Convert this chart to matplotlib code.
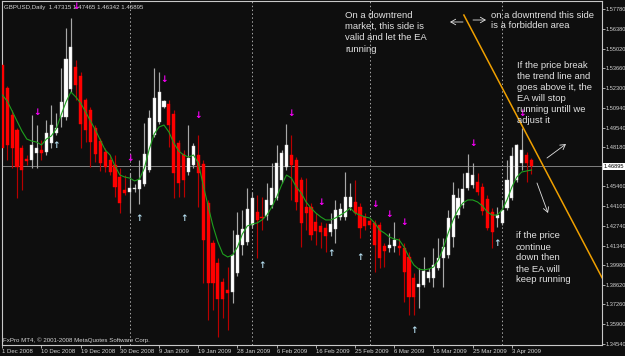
import matplotlib
matplotlib.use("Agg")
import matplotlib.pyplot as plt
import numpy as np

plt.rcParams['font.family'] = ['Liberation Sans', 'DejaVu Sans']

# ---------------- data (GBPUSD daily) ----------------
opens = [1.5389,1.5229,1.5042,1.4938,1.4813,1.4736,1.4729,1.4778,1.4799,1.4785,
         1.4847,1.4917,1.5028,1.5028,1.5222,1.5375,1.5313,1.5146,1.5077,1.4952,
         1.4861,1.4785,1.4729,1.4695,1.4611,1.4521,1.4507,1.4528,1.4528,1.4563,
         1.4660,1.4903,1.4993,1.5097,1.5118,1.5049,1.4847,1.4771,1.4646,1.4695,
         1.4764,1.4702,1.4431,1.4153,1.4014,1.3882,1.3827,1.3813,1.3945,1.4139,
         1.4160,1.4278,1.4368,1.4334,1.4341,1.4417,1.4466,1.4591,1.4681,1.4764,
         1.4729,1.4591,1.4403,1.4403,1.4299,1.4271,1.4257,1.4229,1.4250,1.4334,
         1.4334,1.4403,1.4438,1.4403,1.4334,1.4306,1.4292,1.4278,1.4132,1.4118,
         1.4132,1.4132,1.4118,1.4056,1.3910,1.3847,1.3861,1.3910,1.3910,1.3979,
         1.4049,1.4070,1.4195,1.4347,1.4417,1.4535,1.4556,1.4577,1.4542,1.4459,
         1.4368,1.4327,1.4292,1.4396,1.4466,1.4591,1.4709,1.4764,1.47315]
highs = [1.5410,1.5243,1.5077,1.4952,1.4834,1.4764,1.5042,1.4972,1.4868,1.5007,
         1.5111,1.5056,1.5368,1.5646,1.5716,1.5424,1.5341,1.5160,1.5097,1.4972,
         1.4882,1.4813,1.4764,1.4764,1.4674,1.4625,1.4639,1.4563,1.4729,1.4986,
         1.5077,1.5368,1.5341,1.5146,1.5146,1.5077,1.4868,1.4799,1.4972,1.4847,
         1.4903,1.4729,1.4452,1.4174,1.4049,1.3910,1.3986,1.4243,1.4368,1.4382,
         1.4535,1.4507,1.4486,1.4472,1.4570,1.4709,1.4834,1.4799,1.4979,1.4903,
         1.4750,1.4611,1.4604,1.4431,1.4361,1.4299,1.4292,1.4361,1.4452,1.4431,
         1.4646,1.4570,1.4591,1.4431,1.4361,1.4327,1.4313,1.4299,1.4153,1.4222,
         1.4299,1.4188,1.4153,1.4091,1.3945,1.3979,1.4056,1.3979,1.4118,1.4188,
         1.4188,1.4382,1.4577,1.4535,1.4639,1.4771,1.4709,1.4639,1.4570,1.4486,
         1.4396,1.4403,1.4452,1.4729,1.4820,1.4841,1.4952,1.4785,1.47465]
lows = [1.4729,1.4729,1.4674,1.4466,1.4521,1.4695,1.4674,1.4674,1.4729,1.4764,
        1.4813,1.4903,1.4959,1.5007,1.5202,1.5146,1.4813,1.4854,1.4681,1.4716,
        1.4653,1.4646,1.4625,1.4472,1.4361,1.4486,1.4361,1.4507,1.4424,1.4549,
        1.4646,1.4889,1.4979,1.5091,1.4820,1.4466,1.4472,1.4472,1.4625,1.4674,
        1.4403,1.3875,1.3618,1.3688,1.3500,1.3632,1.3549,1.3736,1.3924,1.4070,
        1.4139,1.4257,1.4049,1.4243,1.4313,1.4396,1.4452,1.4570,1.4660,1.4452,
        1.4382,1.4125,1.4243,1.4174,1.4139,1.4118,1.4091,1.4202,1.4153,1.4313,
        1.4313,1.4382,1.4347,1.4188,1.4243,1.4257,1.3952,1.3979,1.3986,1.4091,
        1.4091,1.4070,1.3743,1.3653,1.3653,1.3702,1.3847,1.3882,1.3847,1.3966,
        1.3847,1.4049,1.4125,1.4327,1.4396,1.4521,1.4535,1.4486,1.4347,1.4243,
        1.4118,1.4264,1.4278,1.4382,1.4452,1.4577,1.4660,1.4577,1.46342]
closes = [1.4813,1.4834,1.4813,1.4681,1.4660,1.4722,1.4834,1.4813,1.4778,1.4917,
          1.4972,1.4952,1.5132,1.5431,1.5514,1.5250,1.4979,1.4938,1.4854,1.4771,
          1.4709,1.4681,1.4646,1.4542,1.4431,1.4500,1.4535,1.4535,1.4591,1.4771,
          1.5021,1.5160,1.5202,1.5139,1.4972,1.4639,1.4570,1.4591,1.4743,1.4827,
          1.4639,1.4174,1.3875,1.3875,1.3764,1.3764,1.3806,1.4070,1.4209,1.4250,
          1.4389,1.4466,1.4313,1.4327,1.4452,1.4535,1.4709,1.4778,1.4834,1.4695,
          1.4438,1.4292,1.4361,1.4209,1.4236,1.4229,1.4202,1.4285,1.4382,1.4389,
          1.4472,1.4472,1.4361,1.4257,1.4271,1.4278,1.4139,1.4049,1.4097,1.4139,
          1.4174,1.4118,1.3952,1.3778,1.3778,1.3868,1.3959,1.3952,1.4000,1.4049,
          1.4125,1.4327,1.4486,1.4466,1.4528,1.4639,1.4625,1.4507,1.4375,1.4257,
          1.4229,1.4347,1.4382,1.4591,1.4757,1.4834,1.4799,1.4709,1.46895]
ma_line = [1.5181,1.5139,1.5070,1.5000,1.4931,1.4875,1.4861,1.4854,1.4834,1.4875,
           1.4896,1.4945,1.5042,1.5132,1.5202,1.5167,1.5125,1.5063,1.5000,1.4938,
           1.4868,1.4799,1.4764,1.4688,1.4625,1.4611,1.4604,1.4584,1.4597,1.4674,
           1.4806,1.4910,1.4959,1.4972,1.4924,1.4847,1.4792,1.4764,1.4750,1.4764,
           1.4709,1.4556,1.4410,1.4271,1.4160,1.4077,1.4056,1.4070,1.4125,1.4216,
           1.4271,1.4285,1.4292,1.4313,1.4347,1.4403,1.4472,1.4556,1.4625,1.4604,
           1.4542,1.4500,1.4438,1.4396,1.4361,1.4334,1.4313,1.4313,1.4327,1.4347,
           1.4368,1.4396,1.4361,1.4347,1.4334,1.4327,1.4292,1.4243,1.4222,1.4195,
           1.4181,1.4174,1.4125,1.4056,1.4000,1.3972,1.3966,1.3972,1.3986,1.4035,
           1.4118,1.4222,1.4313,1.4382,1.4431,1.4452,1.4452,1.4438,1.4410,1.4368,
           1.4347,1.4347,1.4382,1.4452,1.4542,1.4611,1.4646,1.4653,1.4660]

down_arrow_bars = [7, 15, 26, 33, 40, 59, 65, 76, 79, 82, 96, 106]
down_arrow_prices = [1.5056, 1.5792, 1.4743, 1.5285, 1.5035, 1.5049, 1.4431, 1.4417,
                     1.4354, 1.4292, 1.4847, 1.5049]
up_arrow_bars = [11, 28, 37, 53, 67, 73, 84, 101]
up_arrow_prices = [1.4827, 1.4320, 1.4320, 1.4000, 1.4077, 1.4049, 1.3542, 1.4153]

trend_bars = [94.2, 122.4]
trend_prices = [1.5736, 1.3912]

month_sep_bars = [26, 51, 75, 102]
current_price = 1.46895

date_bars = [0, 8, 16, 24, 32, 40, 48, 56, 64, 72, 80, 88, 96, 104]
date_labels = ["1 Dec 2008", "10 Dec 2008", "19 Dec 2008", "30 Dec 2008", "9 Jan 2009",
               "19 Jan 2009", "28 Jan 2009", "6 Feb 2009", "16 Feb 2009", "25 Feb 2009",
               "6 Mar 2009", "16 Mar 2009", "25 Mar 2009", "3 Apr 2009"]
price_ticks = [1.57780, 1.56380, 1.55020, 1.53660, 1.52300, 1.50940, 1.49540, 1.48180,
               1.45460, 1.44100, 1.42740, 1.41340, 1.39980, 1.38620, 1.37260, 1.35900,
               1.34540]

header = "GBPUSD,Daily  1.47315 1.47465 1.46342 1.46895"
copyright_txt = "FxPro MT4, \u00a9 2001-2008 MetaQuotes Software Corp."

# ---------------- figure ----------------
W, H = 625, 356
BG = '#0e0e0e'
TXT = '#d4d4d4'
fig = plt.figure(figsize=(W / 100, H / 100), dpi=100)
fig.patch.set_facecolor(BG)
ax = fig.add_axes([2 / W, 11 / H, 600 / W, 344 / H])
ax.set_facecolor(BG)
ax.set_xlim(-0.06, 122.39)
ax.set_ylim(1.34447, 1.58336)

o = np.array(opens); h = np.array(highs); l = np.array(lows); c = np.array(closes)
idx = np.arange(len(o))
bull = c >= o

# month separators and current price line
for b in month_sep_bars:
    ax.axvline(b, color='#a8a8a8', lw=0.7, ls=(0, (1.5, 2.5)), zorder=1)
ax.axhline(current_price, color='#808080', lw=0.7, zorder=1)

# wicks
ax.vlines(idx[bull], l[bull], h[bull], color='#a8a8a8', lw=0.85, zorder=2)
ax.vlines(idx[~bull], l[~bull], h[~bull], color='#b80000', lw=0.85, zorder=2)
# bodies
body_h = np.maximum(np.abs(c - o), 0.0007)
body_b = np.minimum(o, c)
ax.bar(idx[bull], body_h[bull], bottom=body_b[bull], width=0.64,
       color='#ffffff', edgecolor='#d0d0d0', linewidth=0.3, zorder=3)
ax.bar(idx[~bull], body_h[~bull], bottom=body_b[~bull], width=0.64,
       color='#ff0000', edgecolor='#ff0000', linewidth=0.3, zorder=3)

# moving average
ax.plot(idx, ma_line, color='#1ea01e', lw=0.8, zorder=4)

# signal arrows
for b, p in zip(down_arrow_bars, down_arrow_prices):
    ax.text(b, p, '\u2193', color='#ff00ff', fontsize=6.5, fontweight='bold',
            family='DejaVu Sans', ha='center', va='center', zorder=5)
for b, p in zip(up_arrow_bars, up_arrow_prices):
    ax.text(b, p, '\u2191', color='#b4dcee', fontsize=6.5, fontweight='bold',
            family='DejaVu Sans', ha='center', va='center', zorder=5)

# trend line
ax.plot(trend_bars, trend_prices, color='#f0a000', lw=1.1, zorder=6, clip_on=True)

# axes styling
for s in ax.spines.values():
    s.set_color('#c8c8c8')
    s.set_linewidth(0.8)
ax.yaxis.tick_right()
ax.set_yticks(price_ticks)
ax.set_yticklabels([f"{v:.5f}" for v in price_ticks])
ax.set_xticks(date_bars)
ax.set_xticklabels(date_labels)
for t in ax.get_xticklabels():
    t.set_ha('left')
ax.tick_params(axis='y', colors='#c8c8c8', labelcolor=TXT, labelsize=4.1,
               length=2, width=0.6, pad=0.6)
ax.tick_params(axis='x', colors='#c8c8c8', labelcolor=TXT, labelsize=4.3,
               length=2, width=0.6, pad=1.2)


def fxy(x, y):
    return x / W, 1 - y / H


# header and copyright
fig.text(*fxy(4, 7.5), header, color=TXT, fontsize=4.4, ha='left', va='center')
fig.text(*fxy(3, 340), copyright_txt, color=TXT, fontsize=4.4, ha='left', va='center')

# current price box on the axis
fig.text(*fxy(604, 166.5), "1.46895", color='#000000', fontsize=4.1, ha='left',
         va='center', bbox=dict(boxstyle='square,pad=0.15', fc='#ffffff', ec='none'))

# annotations
ANN = '#e2e2e2'
FS = 6.8
blocks = [
    (345, [15, 26, 37.7, 49], ["On a downtrend", "market, this side is",
                               "valid and let the EA", "running"]),
    (491, [15, 25.5], ["on a downtrend this side", "is a forbidden area"]),
    (517, [65, 76.5, 87.5, 98.5, 109.5, 120.5],
     ["If the price break", "the trend line and", "goes above it, the",
      "EA will stop", "running untill we", "adjust it"]),
    (516, [236, 247, 258, 269, 280],
     ["if the price", "continue", "down then", "the EA will", "keep running"]),
]
for x0, ys, lines in blocks:
    for yy, s in zip(ys, lines):
        fig.text(*fxy(x0, yy), s, color=ANN, fontsize=FS, ha='left', va='center')

arrow_kw = dict(arrowstyle='->,head_length=0.35,head_width=0.2', color=ANN, lw=0.6,
                shrinkA=0, shrinkB=0)
for (x1, y1), (x2, y2) in [((463, 22), (450, 22)), ((473, 20), (486, 20)),
                           ((547, 158), (566, 144)), ((537, 183), (548, 213))]:
    ax.annotate('', xy=fxy(x2, y2), xytext=fxy(x1, y1), xycoords='figure fraction',
                textcoords='figure fraction', arrowprops=arrow_kw, annotation_clip=False)

fig.savefig('out.png', dpi=100, facecolor=BG)
